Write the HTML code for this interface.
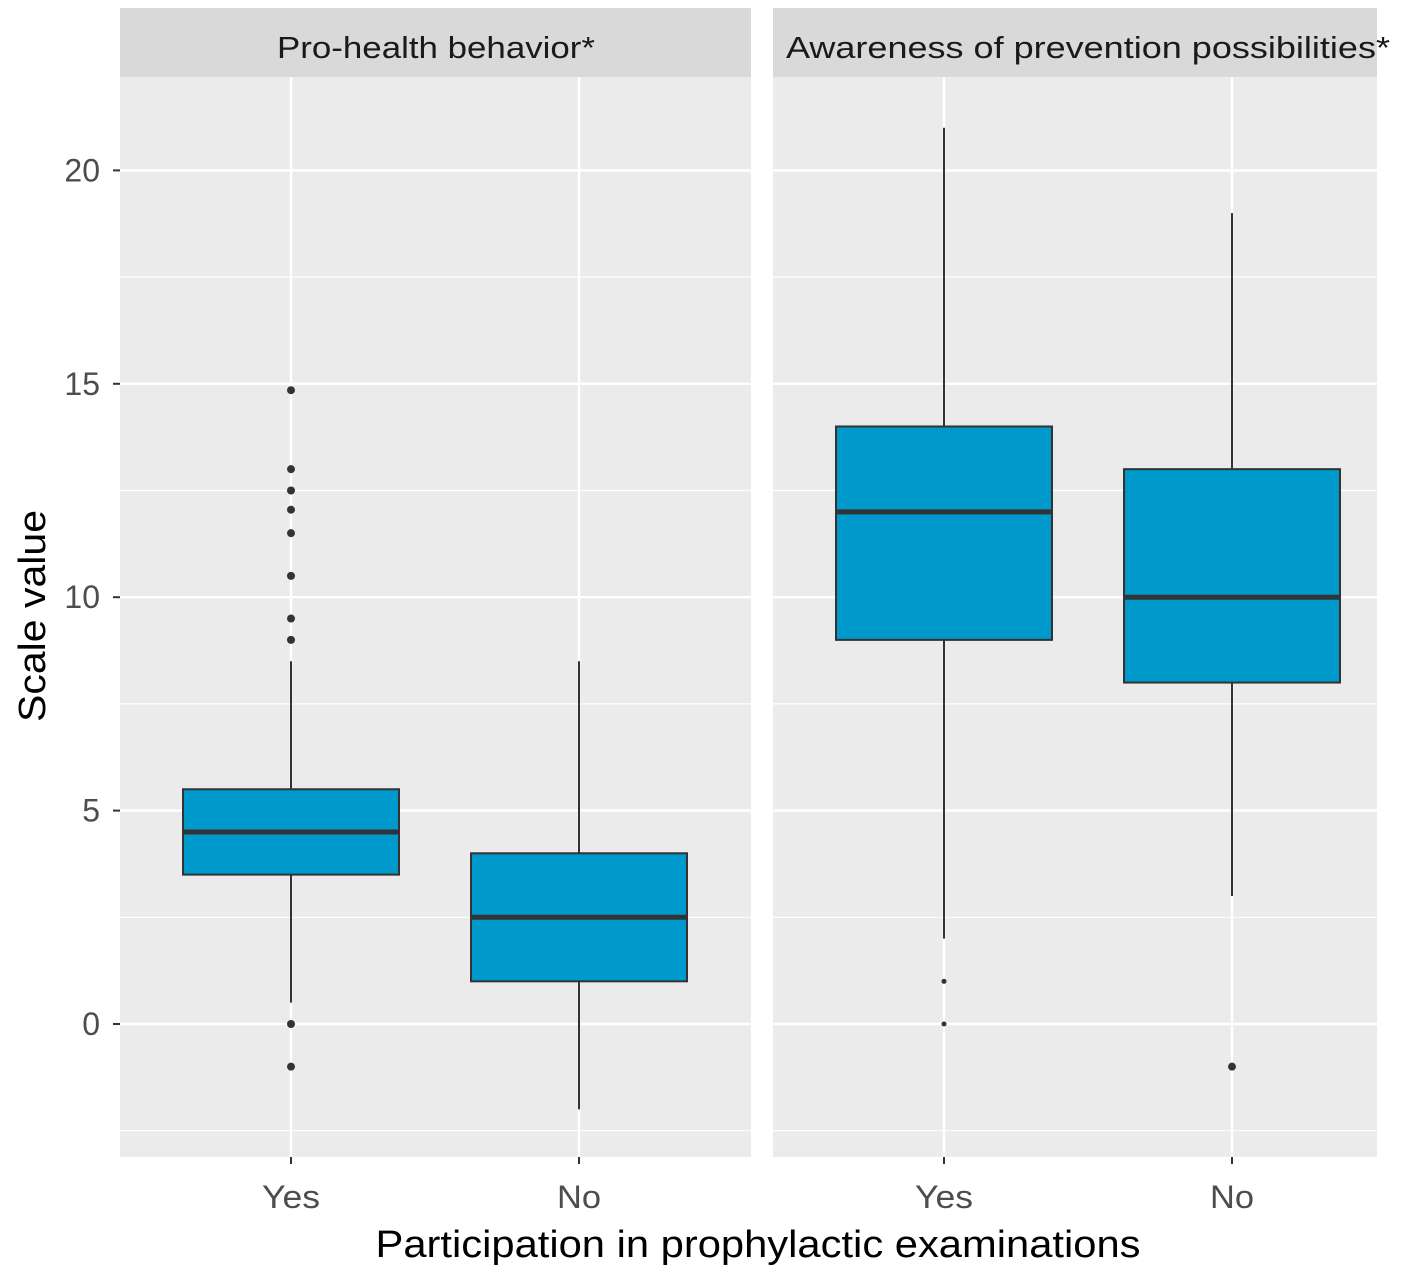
<!DOCTYPE html>
<html><head><meta charset="utf-8">
<style>
body{margin:0;background:#fff;}
svg text{font-family:"Liberation Sans",Arial,sans-serif;}
</style></head>
<body>
<svg id="chart" width="1418" height="1280" xmlns="http://www.w3.org/2000/svg">
<rect width="1418" height="1280" fill="#fff"/>
</svg>
<script>
const panels = ["Pro-health behavior*", "Awareness of prevention possibilities*"];
const categories = ["Yes", "No"];
const lowWhisker = [[0.5, -2], [2, 3]];
const q1 = [[3.5, 1], [9, 8]];
const median = [[4.5, 2.5], [12, 10]];
const q3 = [[5.5, 4], [14, 13]];
const highWhisker = [[8.5, 8.5], [21, 19]];
const outliers = [[[14.85, 13, 12.5, 12.05, 11.5, 10.5, 9.5, 9, 0, -1], []], [[1, 0], [-1]]];
const yTicks = [0, 5, 10, 15, 20];

const NS = "http://www.w3.org/2000/svg";
const svg = document.getElementById("chart");
function mk(tag, attrs, parent) {
  const e = document.createElementNS(NS, tag);
  for (const k in attrs) e.setAttribute(k, attrs[k]);
  (parent || svg).appendChild(e);
  return e;
}
const panelX = [[120, 751], [773, 1377]];
const stripLen = [318, 604];
const stripCenter = [436, 1088];
const plotTop = 77, plotBot = 1157;
function y(v) { return 1024 - 42.68 * v; }
function x(p, i) { return panelX[p][0] + 171 + i * 288; }
const boxW = 216;

panels.forEach((name, p) => {
  const [a, b] = panelX[p];
  const strip = mk("rect", {x: a, y: 8, width: b - a, height: 69, fill: "#d9d9d9"});
  
  
  const st = mk("text", {x: stripCenter[p], y: 58, "text-anchor": "middle", "font-size": 31, fill: "#1a1a1a", textLength: stripLen[p], lengthAdjust: "spacingAndGlyphs"});
  st.textContent = name;
  
  
  const bg = mk("rect", {x: a, y: plotTop, width: b - a, height: plotBot - plotTop, fill: "#ebebeb"});
  
  
  for (let v = -2.5; v <= 22.5; v += 2.5) {
    const yy = y(v);
    if (yy < plotTop || yy > plotBot) continue;
    const major = Math.abs(v % 5) < 1e-9;
    const g = mk("line", {x1: a, x2: b, y1: yy, y2: yy, stroke: "#fff", "stroke-width": major ? 2.4 : 1.2});
    
    
  }
  categories.forEach((c, i) => {
    const g = mk("line", {x1: x(p, i), x2: x(p, i), y1: plotTop, y2: plotBot, stroke: "#fff", "stroke-width": 2.4});
    
    
  });
  categories.forEach((c, i) => {
    const cx = x(p, i);
    const wl = mk("line", {x1: cx, x2: cx, y1: y(lowWhisker[p][i]), y2: y(highWhisker[p][i]), stroke: "#333", "stroke-width": 2});
    
    
    const bx = mk("rect", {x: cx - boxW / 2, y: y(q3[p][i]), width: boxW, height: y(q1[p][i]) - y(q3[p][i]), fill: "#0099cc", stroke: "#333", "stroke-width": 2});
    
    
    const md = mk("line", {x1: cx - boxW / 2, x2: cx + boxW / 2, y1: y(median[p][i]), y2: y(median[p][i]), stroke: "#333", "stroke-width": 5});
    
    
    outliers[p][i].forEach(v => {
      const o = mk("circle", {cx: cx, cy: y(v), r: p === 1 && i === 0 ? 2.5 : 4, fill: "#333"});
      
      
    });
    const tk = mk("line", {x1: cx, x2: cx, y1: plotBot, y2: plotBot + 7, stroke: "#333", "stroke-width": 2});
    
    
    const tl = mk("text", {x: cx, y: 1208, "text-anchor": "middle", "font-size": 32, fill: "#4d4d4d", textLength: c === "Yes" ? 58 : 44, lengthAdjust: "spacingAndGlyphs"});
    tl.textContent = c;
    
    
  });
});
yTicks.forEach(v => {
  const tk = mk("line", {x1: 113, x2: 120, y1: y(v), y2: y(v), stroke: "#333", "stroke-width": 2});
  
  
  const tl = mk("text", {x: 100, y: y(v) + 11, "text-anchor": "end", "font-size": 32, fill: "#4d4d4d"});
  tl.textContent = v;
  
  
});
const xt = mk("text", {x: 758, y: 1257, "text-anchor": "middle", "font-size": 38, fill: "#000", textLength: 765, lengthAdjust: "spacingAndGlyphs"});
xt.textContent = "Participation in prophylactic examinations";


const yt = mk("text", {x: 0, y: 0, "text-anchor": "middle", "font-size": 38, fill: "#000", transform: "translate(45,616) rotate(-90)", textLength: 212, lengthAdjust: "spacingAndGlyphs"});
yt.textContent = "Scale value";


</script>
</body></html>
